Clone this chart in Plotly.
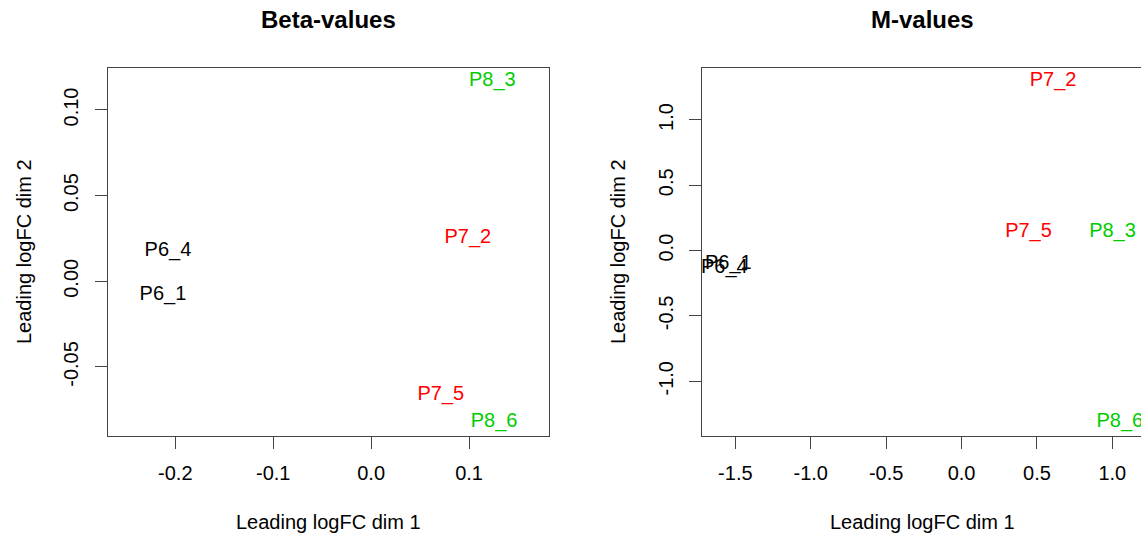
import plotly.graph_objects as go

W, H = 1141, 537

# ---- data ----
samples = ["P6_1", "P6_4", "P7_2", "P7_5", "P8_3", "P8_6"]
colors = ["#000000", "#000000", "#FF0000", "#FF0000", "#00CD00", "#00CD00"]

beta_dim1 = [-0.2126, -0.2075, 0.0987, 0.0711, 0.1238, 0.1255]
beta_dim2 = [-0.0082, 0.0179, 0.0255, -0.0665, 0.1171, -0.0820]

m_dim1 = [-1.546, -1.573, 0.607, 0.444, 1.001, 1.05]
m_dim2 = [-0.102, -0.132, 1.301, 0.145, 0.145, -1.309]

beta_xticks = [-0.2, -0.1, 0.0, 0.1]
beta_xticklabels = ["-0.2", "-0.1", "0.0", "0.1"]
beta_yticks = [-0.05, 0.0, 0.05, 0.10]
beta_yticklabels = ["-0.05", "0.00", "0.05", "0.10"]

m_xticks = [-1.5, -1.0, -0.5, 0.0, 0.5, 1.0]
m_xticklabels = ["-1.5", "-1.0", "-0.5", "0.0", "0.5", "1.0"]
m_yticks = [-1.0, -0.5, 0.0, 0.5, 1.0]
m_yticklabels = ["-1.0", "-0.5", "0.0", "0.5", "1.0"]

titles = ["Beta-values", "M-values"]
xlab = "Leading logFC dim 1"
ylab = "Leading logFC dim 2"

FONT = "Liberation Sans, Arial, sans-serif"
LINE = "#444444"

fig = go.Figure()
fig.add_trace(go.Scatter(x=beta_dim1, y=beta_dim2, mode="text", text=samples,
                         textposition="middle center",
                         textfont=dict(color=colors, size=20, family=FONT),
                         xaxis="x", yaxis="y", showlegend=False, hoverinfo="skip"))
fig.add_trace(go.Scatter(x=m_dim1, y=m_dim2, mode="text", text=samples,
                         textposition="middle center",
                         textfont=dict(color=colors, size=20, family=FONT),
                         xaxis="x2", yaxis="y2", showlegend=False, hoverinfo="skip",
                         cliponaxis=True))

ydom = [1 - 436 / H, 1 - 68 / H]
x1dom = [108 / W, 549 / W]
x2dom = [701.7 / W, 1.0]

axis_common = dict(showgrid=False, zeroline=False, showline=True, linecolor=LINE,
                   linewidth=1, ticks="outside", ticklen=12, tickcolor=LINE,
                   tickwidth=1, tickfont=dict(size=20, family=FONT, color="#000000"))

fig.update_layout(
    width=W, height=H,
    margin=dict(l=0, r=0, t=0, b=0),
    paper_bgcolor="white", plot_bgcolor="white",
    xaxis=dict(domain=x1dom, range=[-0.2687, 0.1816], tickvals=beta_xticks,
               ticktext=beta_xticklabels, mirror=True, anchor="y",
               ticklabelstandoff=7, **axis_common),
    yaxis=dict(domain=ydom, range=[-0.0903, 0.1245], tickvals=beta_yticks,
               ticktext=beta_yticklabels, mirror=True, anchor="x", tickangle=-90,
               ticklabelstandoff=9, **axis_common),
    xaxis2=dict(domain=x2dom, range=[-1.723, 1.190], tickvals=m_xticks,
                ticktext=m_xticklabels, mirror=True, anchor="y2",
                ticklabelstandoff=7, **axis_common),
    yaxis2=dict(domain=ydom, range=[-1.419, 1.398], tickvals=m_yticks,
                ticktext=m_yticklabels, mirror=False, anchor="x2", tickangle=-90,
                ticklabelstandoff=8, **axis_common),
    font=dict(family=FONT, color="#000000"),
)

ann = []
centers = [(108 + 549) / 2 / W, (701.7 + 1143) / 2 / W]
for c, t in zip(centers, titles):
    ann.append(dict(text="<b>%s</b>" % t, x=c, y=1 - 20 / H, xref="paper", yref="paper",
                    showarrow=False, xanchor="center", yanchor="middle",
                    font=dict(size=24, family=FONT, color="#000000")))
    ann.append(dict(text=xlab, x=c, y=1 - 522 / H, xref="paper", yref="paper",
                    showarrow=False, xanchor="center", yanchor="middle",
                    font=dict(size=20, family=FONT, color="#000000")))
for xp in [24 / W, 618 / W]:
    ann.append(dict(text=ylab, x=xp, y=1 - 252 / H, xref="paper", yref="paper",
                    showarrow=False, xanchor="center", yanchor="middle", textangle=-90,
                    font=dict(size=20, family=FONT, color="#000000")))
fig.update_layout(annotations=ann)

fig.write_html("out.html", config={"displayModeBar": False},
               post_script="document.body.style.margin='0';document.body.style.padding='0';")
